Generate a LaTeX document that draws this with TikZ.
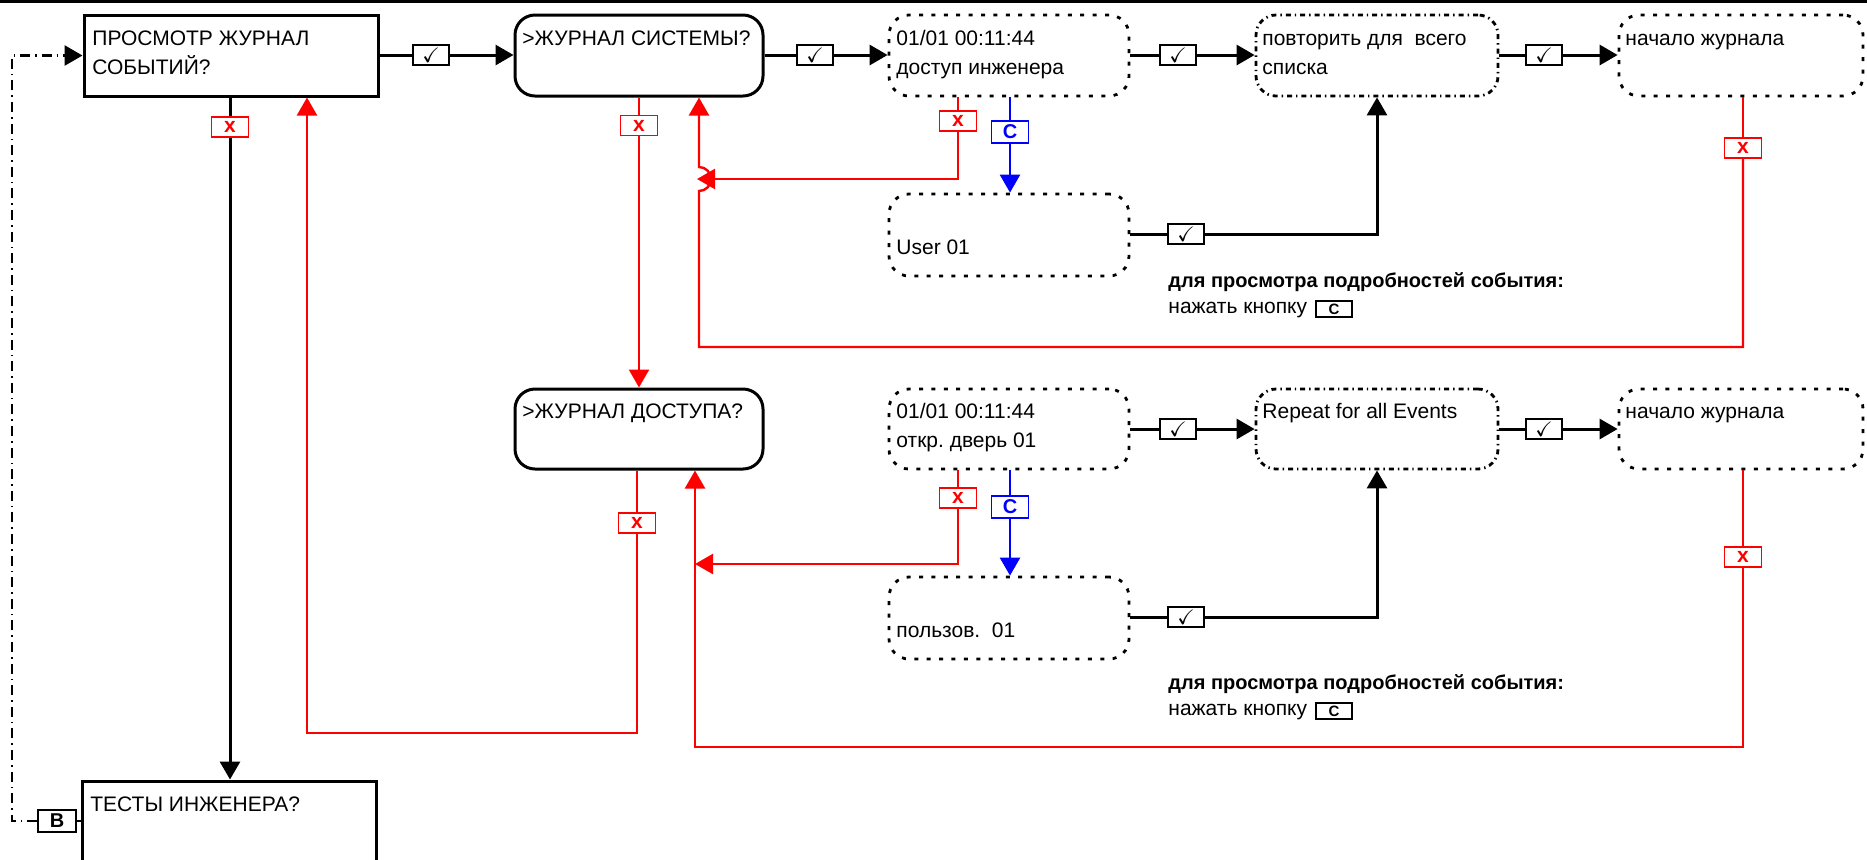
\documentclass[tikz,border=0pt]{standalone}
\usepackage{amssymb}
\usepackage{fontspec}
\setmainfont{Liberation Sans}
\usetikzlibrary{arrows.meta}
\frenchspacing
\tikzset{
  every node/.style={font=\fontsize{10.5}{12.6}\selectfont},
  sq/.style={draw, line width=1.5pt, inner sep=0},
  rbox/.style={draw, line width=1.5pt, rounded corners=10pt, inner sep=0},
  dotbox/.style={draw, line width=1.4pt, rounded corners=10pt, dash pattern=on 2pt off 4.2pt, inner sep=0},
  ddbox/.style={draw, line width=1.4pt, rounded corners=10pt, dash pattern=on 2.5pt off 2pt on 0.7pt off 2pt, inner sep=0},
  txt/.style={anchor=base west, inner sep=0},
  note/.style={anchor=base west, inner sep=0, font=\fontsize{10}{12}\selectfont\bfseries},
  ck/.style={draw, line width=0.6pt, minimum width=18pt, minimum height=10pt, inner sep=0, fill=white},
  xk/.style={draw=red, text=red, line width=0.6pt, minimum width=18.5pt, minimum height=10pt, inner sep=0, fill=white, font=\fontsize{10.5}{12}\selectfont\bfseries},
  ckb/.style={draw=blue, text=blue, line width=0.6pt, minimum width=18.5pt, minimum height=11pt, inner sep=0, fill=white, font=\fontsize{10}{12}\selectfont\bfseries},
  kbox/.style={draw, line width=0.6pt, minimum width=18pt, minimum height=8pt, inner sep=0, font=\fontsize{7.5}{9}\selectfont\bfseries},
  conn/.style={line width=1.5pt},
  arr/.style={-{Triangle[length=9pt,width=10pt]}},
  rl/.style={red, line width=1.2pt},
  bl/.style={blue, line width=1.2pt},
  ddline/.style={line width=1.4pt, dash pattern=on 5pt off 2.5pt on 0.8pt off 2.5pt},
}
\begin{document}
\begin{tikzpicture}[x=0.5pt,y=-0.5pt]
\useasboundingbox (0,0) rectangle (1867,859);
\fill (0,0) rectangle (1867,3);

% main boxes
\node[sq, minimum width=147pt, minimum height=40.5pt] (A) at (231,55.5) {};
\node[rbox, minimum width=124pt, minimum height=40.5pt] (B) at (639,55.5) {};
\node[dotbox, minimum width=120pt, minimum height=40.5pt] (C) at (1009,55.5) {};
\node[ddbox, minimum width=121pt, minimum height=40.5pt] (D) at (1377,55.5) {};
\node[dotbox, minimum width=122pt, minimum height=40.5pt] (E) at (1741,55.5) {};
\node[dotbox, minimum width=120pt, minimum height=41pt] (H) at (1009,235) {};

\node[rbox, minimum width=124pt, minimum height=40pt] (G) at (639,429) {};
\node[dotbox, minimum width=120pt, minimum height=40pt] (I) at (1009,429) {};
\node[ddbox, minimum width=121pt, minimum height=40pt] (J) at (1377,429) {};
\node[dotbox, minimum width=122pt, minimum height=40pt] (K) at (1741,429) {};
\node[dotbox, minimum width=120pt, minimum height=41pt] (L) at (1009,618) {};

\node[sq, minimum width=147pt, minimum height=59.5pt] (F) at (229,840.5) {};

% texts
\node[txt] (tA1) at (92,45) {ПРОСМОТР ЖУРНАЛ};
\node[txt] (tA2) at (92,74) {СОБЫТИЙ?};
\node[txt] (tB) at (522,45) {>ЖУРНАЛ СИСТЕМЫ?};
\node[txt] (tC1) at (896,45) {01/01 00:11:44};
\node[txt] (tC2) at (896,74) {доступ инженера};
\node[txt] (tD1) at (1262,45) {повторить для\ \ всего};
\node[txt] (tD2) at (1262,74) {списка};
\node[txt] (tE) at (1625,45) {начало журнала};
\node[txt] (tH) at (896,254) {User 01};
\node[txt] (tG) at (522,418) {>ЖУРНАЛ ДОСТУПА?};
\node[txt] (tI1) at (896,418) {01/01 00:11:44};
\node[txt] (tI2) at (896,447) {откр. дверь 01};
\node[txt] (tJ) at (1262,418) {Repeat for all Events};
\node[txt] (tK) at (1625,418) {начало журнала};
\node[txt] (tL) at (896,637) {пользов.\ \ 01};
\node[txt] (tF) at (90,811) {ТЕСТЫ ИНЖЕНЕРА?};

\node[note] (n1a) at (1168,287) {для просмотра подробностей события:};
\node[txt] (n1b) at (1168,313) {нажать кнопку};
\node[kbox] (k1) at (1334,309) {C};
\node[note] (n2a) at (1168,689) {для просмотра подробностей события:};
\node[txt] (n2b) at (1168,715) {нажать кнопку};
\node[kbox] (k2) at (1334,711) {C};

% check boxes
\node[ck] (c1) at (431,55) {$\checkmark$};
\node[ck] (c2) at (815,55) {$\checkmark$};
\node[ck] (c3) at (1178,55) {$\checkmark$};
\node[ck] (c4) at (1544,55) {$\checkmark$};
\node[ck] (c5) at (1178,429) {$\checkmark$};
\node[ck] (c6) at (1544,429) {$\checkmark$};
\node[ck] (cH) at (1186,234) {$\checkmark$};
\node[ck] (cL) at (1186,617) {$\checkmark$};

% x boxes
\node[xk] (xA) at (230,127) {x};
\node[xk] (xB) at (639,125.5) {x};
\node[xk] (xC) at (958,121) {x};
\node[xk] (xE) at (1743,148) {x};
\node[xk] (xG) at (637,523) {x};
\node[xk] (xI) at (958,498) {x};
\node[xk] (xK) at (1743,557) {x};
\node[ckb] (bC1) at (1010,132) {C};
\node[ckb] (bC2) at (1010,507) {C};
\node[ck, minimum width=19pt, minimum height=11pt, font=\fontsize{10}{12}\selectfont\bfseries] (vB) at (57,821) {В};

% black flow row 1
\draw[conn] (A.east |- c1) -- (c1.west);
\draw[conn,arr] (c1.east) -- (B.west |- c1);
\draw[conn] (B.east |- c2) -- (c2.west);
\draw[conn,arr] (c2.east) -- (C.west |- c2);
\draw[conn] (C.east |- c3) -- (c3.west);
\draw[conn,arr] (c3.east) -- (D.west |- c3);
\draw[conn] (D.east |- c4) -- (c4.west);
\draw[conn,arr] (c4.east) -- (E.west |- c4);
% row 2
\draw[conn] (I.east |- c5) -- (c5.west);
\draw[conn,arr] (c5.east) -- (J.west |- c5);
\draw[conn] (J.east |- c6) -- (c6.west);
\draw[conn,arr] (c6.east) -- (K.west |- c6);
% H, L to D, J
\draw[conn] (H.east |- cH) -- (cH.west);
\draw[conn,arr] (cH.east) -| (D.south);
\draw[conn] (L.east |- cL) -- (cL.west);
\draw[conn,arr] (cL.east) -| (J.south);
% A down to F
\draw[conn] (A.south -| xA) -- (xA.north);
\draw[conn,arr] (xA.south) -- (xA.south |- F.north);

% dash-dot return
\coordinate (dd) at (12,821);
\draw[ddline,arr] (vB.west) -- (dd) |- (A.west);
\draw[ddline] (vB.east) -- (F.west |- vB);

% red: B -> G
\draw[rl] (B.south -| xB) -- (xB.north);
\draw[rl,arr] (xB.south) -- (G.north -| xB);
% red: G -> A
\coordinate (rA) at (307,733);
\draw[rl] (G.south -| xG) -- (xG.north);
\draw[rl,arr] (xG.south) |- (rA) -- (rA |- A.south);
% red: E -> B with bridge
\coordinate (rB) at (699,347);
\coordinate (jb) at (699,191);
\coordinate (jt) at (699,167);
\draw[rl] (E.south -| xE) -- (xE.north);
\draw[rl,arr] (xE.south) |- (rB) -- (jb) arc[start angle=-90, end angle=90, radius=6pt] -- (jt |- B.south);
% red: C -> bridge
\coordinate (jm) at (697,179);
\draw[rl] (C.south -| xC) -- (xC.north);
\draw[rl,arr] (xC.south) |- (jm);
% red: K -> G
\coordinate (rG) at (695,747);
\draw[rl] (K.south -| xK) -- (xK.north);
\draw[rl,arr] (xK.south) |- (rG) -- (rG |- G.south);
% red: I -> G line
\coordinate (jg) at (695,564);
\draw[rl] (I.south -| xI) -- (xI.north);
\draw[rl,arr] (xI.south) |- (jg);

% blue
\draw[bl] (C.south -| bC1) -- (bC1.north);
\draw[bl,arr] (bC1.south) -- (H.north -| bC1);
\draw[bl] (I.south -| bC2) -- (bC2.north);
\draw[bl,arr] (bC2.south) -- (L.north -| bC2);
\end{tikzpicture}
\end{document}
